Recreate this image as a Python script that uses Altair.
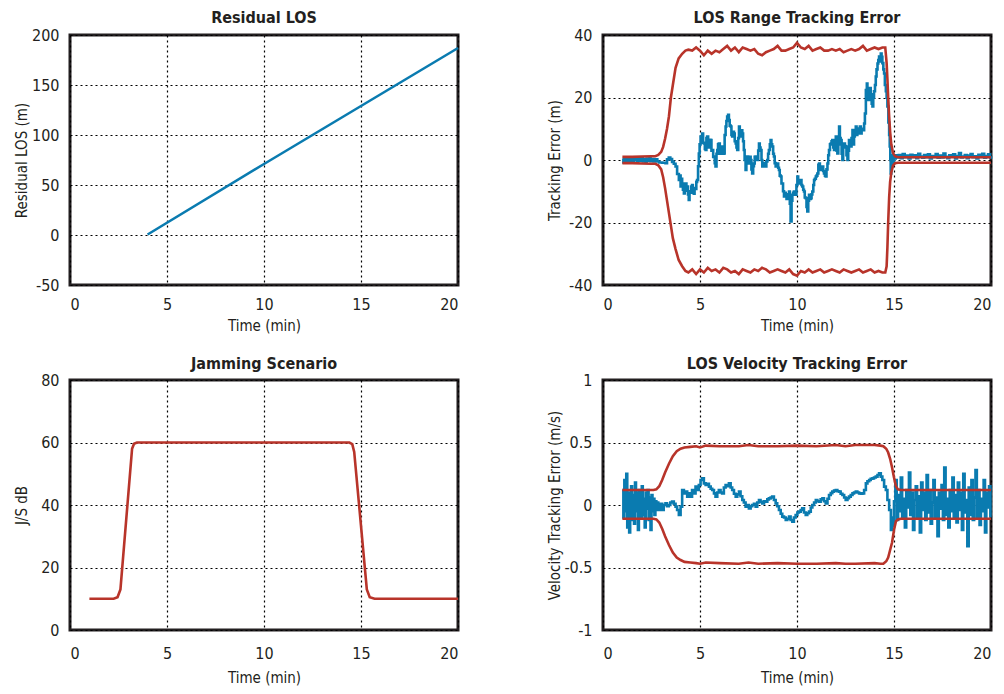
import altair as alt
import pandas as pd

FONT = "DejaVu Sans Condensed, sans-serif"
BLUE = "#0A7BB0"
RED = "#B8342A"
TXT = "#231F20"

# ---------------- Residual LOS ----------------
los_t = [4, 10, 20]
los_v = [0.5, 71, 187]

# ---------------- Jamming scenario ----------------
jam_t = [1, 2.25, 2.45, 2.6, 3.2, 3.3, 3.45, 14.4, 14.55, 14.65, 15.3, 15.45, 15.7, 20]
jam_v = [10, 10, 10.5, 13, 58, 59.6, 60, 60, 59.5, 57, 13, 10.5, 10, 10]

# ---------------- LOS range tracking error ----------------
rng_bound_t = [1.0, 1.5, 2.0, 2.5, 2.7, 2.85, 3.0, 3.1, 3.2, 3.3, 3.4, 3.5, 3.6, 3.74, 3.9, 4.08,
               4.25, 4.4, 4.6, 4.8, 5.0, 5.2, 5.4, 5.6, 5.8, 6.0, 6.2, 6.4, 6.6, 6.8, 7.0, 7.2,
               7.4, 7.6, 7.8, 8.0, 8.2, 8.4, 8.6, 8.8, 9.0, 9.2, 9.4, 9.6, 9.8, 10.0, 10.2, 10.4,
               10.6, 10.8, 11.0, 11.2, 11.4, 11.6, 11.8, 12.0, 12.2, 12.4, 12.6, 12.8, 13.0, 13.2,
               13.4, 13.6, 13.8, 14.0, 14.2, 14.4, 14.55, 14.62, 14.66, 14.7, 14.75, 14.8, 14.86,
               14.95, 15.05, 15.2, 16.0, 17.0, 18.0, 19.0, 20.0]
rng_upper = [1.0, 1.0, 1.1, 1.2, 1.2, 1.6, 2.6, 4.2, 6.8, 10, 14, 20, 24, 29.5, 32.5, 34,
             35, 35.3, 35, 36, 35, 33.5, 35, 34, 35, 34.5, 35.5, 36.5, 35, 36, 34.5, 36,
             35.5, 35, 35.5, 34, 33.5, 34.5, 35, 35.5, 36.5, 35, 35, 35.5, 36, 37.5, 36, 35.5,
             36.5, 35, 35.5, 36, 35, 35, 35.5, 35, 35.5, 34.5, 35, 35.5, 35, 35.5,
             36.5, 35, 35.5, 36, 35.5, 36, 36, 31, 26, 20, 14, 9, 5, 2.2, 1.2, 0.9, 0.9, 0.9, 0.9, 0.9, 0.9]
rng_lower = [-1.0, -1.0, -1.1, -1.2, -1.2, -1.7, -3, -5.5, -9, -13, -17, -21, -25, -28.5, -32, -34,
             -35.5, -36, -35, -36.5, -35, -36, -34.5, -35.5, -35, -36, -34.5, -35, -36, -35.5, -36.5, -35,
             -35.5, -36, -35, -35.5, -34.5, -35, -36, -35.5, -35, -35.5, -36, -35, -36.5, -37, -35.5, -36,
             -35, -36, -35.5, -35, -36, -35.5, -35, -35.5, -36, -35, -35.5, -36, -35.5, -35,
             -36, -35.5, -35, -36, -35.5, -36, -36, -34, -28, -20, -12, -7, -4, -1.8, -1.0, -0.9, -0.9, -0.9, -0.9, -0.9, -0.9]

rng_err_t = [1.0, 1.05, 1.1, 1.15, 1.2, 1.3, 1.35, 1.4, 1.5, 1.55, 1.6, 1.7, 1.75, 1.8, 1.9, 2.0,
             2.05, 2.1, 2.2, 2.25, 2.3, 2.4, 2.45, 2.5, 2.6, 2.7, 2.8, 2.9, 3.05, 3.22, 3.3, 3.39,
             3.47, 3.56, 3.65, 3.74, 3.82, 3.91, 3.96, 4.0, 4.04, 4.08, 4.12, 4.17, 4.21, 4.25, 4.3,
             4.34, 4.38, 4.42, 4.46, 4.51, 4.55, 4.59, 4.63, 4.68, 4.72, 4.77, 4.81, 4.85, 4.9, 4.94,
             4.98, 5.03, 5.07, 5.11, 5.16, 5.2, 5.25, 5.29, 5.33, 5.37, 5.42, 5.46, 5.5, 5.54, 5.59,
             5.63, 5.68, 5.72, 5.76, 5.8, 5.85, 5.89, 5.93, 5.97, 6.02, 6.06, 6.1, 6.14, 6.19, 6.23,
             6.27, 6.32, 6.36, 6.4, 6.45, 6.49, 6.53, 6.58, 6.62, 6.66, 6.7, 6.75, 6.79, 6.84, 6.88,
             6.92, 6.97, 7.01, 7.05, 7.09, 7.14, 7.18, 7.22, 7.26, 7.3, 7.35, 7.39, 7.43, 7.48, 7.52,
             7.56, 7.61, 7.65, 7.69, 7.74, 7.78, 7.82, 7.87, 7.91, 7.95, 8.0, 8.04, 8.08, 8.12, 8.17,
             8.21, 8.25, 8.3, 8.34, 8.38, 8.42, 8.47, 8.51, 8.55, 8.6, 8.64, 8.68, 8.72, 8.77, 8.81,
             8.85, 8.9, 8.94, 8.98, 9.03, 9.07, 9.11, 9.16, 9.2, 9.24, 9.28, 9.33, 9.37, 9.42, 9.46,
             9.5, 9.55, 9.59, 9.63, 9.67, 9.72, 9.76, 9.8, 9.84, 9.89, 9.93, 9.97, 10.02, 10.06, 10.1,
             10.15, 10.19, 10.23, 10.27, 10.32, 10.36, 10.4, 10.45, 10.49, 10.53, 10.58, 10.62, 10.66,
             10.71, 10.75, 10.79, 10.84, 10.88, 10.92, 10.97, 11.01, 11.05, 11.1, 11.14, 11.18, 11.22,
             11.27, 11.31, 11.35, 11.39, 11.44, 11.48, 11.52, 11.57, 11.61, 11.65, 11.7, 11.74, 11.78,
             11.82, 11.87, 11.91, 11.95, 12.0, 12.04, 12.08, 12.13, 12.17, 12.21, 12.25, 12.3, 12.34,
             12.38, 12.43, 12.47, 12.51, 12.55, 12.6, 12.64, 12.68, 12.73, 12.77, 12.81, 12.86, 12.9,
             12.94, 12.98, 13.03, 13.07, 13.11, 13.15, 13.2, 13.24, 13.29, 13.33, 13.37, 13.42, 13.46,
             13.5, 13.55, 13.6, 13.63, 13.68, 13.72, 13.76, 13.8, 13.85, 13.89, 13.93, 13.97, 14.02,
             14.06, 14.1, 14.15, 14.19, 14.23, 14.28, 14.32, 14.36, 14.4, 14.45, 14.49, 14.53, 14.58,
             14.62, 14.66, 14.71, 14.75, 14.78, 14.81, 14.83, 14.86, 14.88, 14.92, 14.95, 15.0, 15.05,
             15.09, 15.15, 15.25, 15.35, 15.45, 15.55, 15.65, 15.75, 15.85, 15.95, 16.05, 16.15, 16.25,
             16.35, 16.45, 16.55, 16.65, 16.75, 16.85, 16.95, 17.05, 17.15, 17.25, 17.35, 17.45, 17.55,
             17.65, 17.75, 17.85, 17.95, 18.05, 18.15, 18.25, 18.35, 18.45, 18.55, 18.65, 18.75, 18.85,
             18.95, 19.05, 19.15, 19.25, 19.35, 19.45, 19.55, 19.65, 19.75, 19.85, 19.95, 20.0]
rng_err_v = [0.3, -0.8, 0.9, -0.5, 0.6, -0.3, 0.8, -0.6, 0.4, -0.9, 0.5, 0.2, -0.7, 0.6, -0.2, 0.7,
             -0.5, 0.3, -0.6, 0.5, -0.2, 0.8, -0.4, 0.3, -0.5, 0.2, -0.5, -0.8, -0.9, -1.0, 0.2, 0.8,
             0.3, -0.6, -1.2, -2.1, -4.5, -6.4, -5.0, -8.5, -6.0, -7.5, -9.5, -10.7, -8.0, -7.5, -9.8,
             -8.5, -11, -12.8, -10, -10.5, -8.5, -8.0, -9.5, -10.8, -9, -9.3, -7, -6.4, -2, 2.1,
             5, 7.5, 6, 8.5, 5.5, 5.3, 3.5, 3.2, 7, 7.5, 4, 4.3, 6.5, 6.4, 3,
             3.2, 1, 1.1, -1, -2.1, 2, 3.2, 5, 5.3, 2, 2.1, 4, 4.3, 2, 2.1,
             8, 10.7, 12.5, 13.9, 14.5, 12.8, 11, 10.7, 8, 7.5, 9, 8.5, 6, 5.3, 4,
             3.2, 7, 10.7, 9, 7.5, 9.5, 8.5, 6, 3.2, 0, -3.2, 0, 1.1, -1, -1.1,
             1, 0, -3, -4.3, -2, -1.1, 1, 1.1, 0.5, 0, 3, 5.3, 4, 3.2, 0,
             -2.1, -1, -1.1, -1.5, -2.1, -0.5, 0, 2, 3.2, 5, 6.4, 5, 4.3, 2, 1.1,
             -1, -2.1, -1.5, -1.1, -2.5, -3.2, -5, -5.3, -7.5, -7.5, -10, -11.7, -10.5, -11.1, -12.5,
             -12.2, -11, -10.1, -14, -19.7, -13, -11.1, -10.5, -10.1, -11, -11.1, -8, -5.3, -6.5, -7.5,
             -6.8, -6.4, -8, -8.5, -9.5, -10.1, -12, -12.2, -15, -16.5, -13, -11.1, -12.5,
             -12.2, -11, -10.1, -8, -6.4, -6, -5.3, -5, -4.3, -1.5, -1.1, -3, -3.2,
             -2.5, -2.1, -3.5, -4.3, -5, -5.3, -3, -1.1, 1.5, 3.2, 5, 5.3, 6,
             6.4, 4, 3.2, 6, 7.5, 3, 2.1, 5, 10.7, 7, 6.4, 2, 0,
             4, 5.3, 4.5, 4.3, 1.5, 0, 3, 6.4, 5, 4.3, 7, 9.6, 5,
             7.5, 9.6, 10.7, 8, 10.1, 9, 8.5, 10.7, 8.5, 10, 9.6, 9.5, 11.7,
             14.9, 22.4, 24.5, 19.2, 19.2, 21, 23, 21, 18, 17.1, 20, 22, 24,
             26.7, 29, 30.9, 32, 33.1, 31.5, 34.1, 33, 31, 29, 27.7, 24, 22,
             20, 17.1, 12, 8, 4.3, 0, -4.3, 1, -1.5, 1.5, -1.0, 0.8, 0.5,
             1.5, 0.8, 1.6, 0.6, 1.9, 0.9, 1.4, 0.5, 1.7, 1.0, 1.5, 0.6, 2.0,
             1.1, 0.7, 1.6, 0.9, 1.8, 0.5, 1.3, 1.0, 1.9, 0.7, 1.4, 0.8, 2.1,
             1.0, 0.6, 1.5, 1.2, 1.8, 0.5, 1.3, 2.2, 0.8, 1.1, 1.6, 0.6, 1.4,
             1.9, 0.9, 1.2, 0.5, 1.7, 1.0, 2.0, 0.7, 1.3, 1.8, 0.8, 1.2]

# ---------------- LOS velocity tracking error ----------------
vel_bound_t = [1.0, 2.0, 2.6, 2.75, 2.9, 3.05, 3.2, 3.4, 3.6, 3.8, 4.0, 4.2, 4.5, 4.8, 5.0, 5.3,
               6.0, 7.0, 7.5, 8.0, 9.0, 10.0, 11.0, 12.0, 12.5, 13.0, 14.0, 14.3, 14.45, 14.6, 14.7,
               14.8, 14.9, 15.0, 15.1, 15.2, 15.35, 16.0, 20.0]
vel_upper = [0.12, 0.12, 0.12, 0.125, 0.15, 0.2, 0.26, 0.33, 0.39, 0.43, 0.45, 0.46, 0.465, 0.47, 0.46, 0.475,
             0.47, 0.47, 0.48, 0.47, 0.47, 0.475, 0.47, 0.48, 0.47, 0.48, 0.48, 0.475, 0.47, 0.45, 0.42,
             0.37, 0.3, 0.22, 0.15, 0.125, 0.12, 0.12, 0.12]
vel_lower = [-0.11, -0.11, -0.11, -0.115, -0.14, -0.19, -0.25, -0.32, -0.38, -0.42, -0.44, -0.455, -0.46, -0.465, -0.47, -0.46,
             -0.465, -0.47, -0.46, -0.47, -0.465, -0.47, -0.47, -0.465, -0.47, -0.47, -0.465, -0.47, -0.47, -0.45, -0.42,
             -0.36, -0.3, -0.2, -0.13, -0.115, -0.11, -0.11, -0.11]

# noisy start (before jamming)
vel_start_t = [1.0, 1.05, 1.1, 1.15, 1.2, 1.25, 1.3, 1.35, 1.4, 1.45, 1.5, 1.55, 1.6, 1.65, 1.7, 1.75,
               1.8, 1.85, 1.9, 1.95, 2.0, 2.05, 2.1, 2.15, 2.2, 2.25, 2.3, 2.35, 2.4, 2.45, 2.5, 2.55,
               2.6, 2.65, 2.7, 2.75, 2.8, 2.85]
vel_start_v = [0.12, -0.1, 0.2, -0.05, 0.25, -0.18, 0.1, -0.22, 0.05, 0.15, -0.12, 0.08, -0.15, 0.18, -0.05, 0.1,
               -0.2, 0.12, 0.02, -0.1, 0.15, -0.08, 0.05, -0.18, 0.1, -0.03, 0.12, -0.12, 0.06, -0.2, 0.08, -0.05,
               0.05, -0.08, 0.03, -0.04, 0.02, -0.03]
# jammed period
vel_mid_t = [2.9, 2.96, 3.05, 3.13, 3.22, 3.3, 3.39, 3.47, 3.56,
             3.65, 3.74, 3.82, 3.91, 4.0, 4.08, 4.17, 4.25, 4.34, 4.42, 4.51, 4.59, 4.68, 4.77, 4.85,
             4.94, 5.03, 5.11, 5.2, 5.29, 5.37, 5.46, 5.55, 5.63, 5.72, 5.8, 5.89, 5.97, 6.06, 6.14,
             6.23, 6.32, 6.4, 6.49, 6.58, 6.66, 6.75, 6.84, 6.92, 7.01, 7.09, 7.18, 7.26, 7.35, 7.43,
             7.52, 7.61, 7.69, 7.78, 7.87, 7.95, 8.04, 8.12, 8.21, 8.3, 8.38, 8.47, 8.55, 8.64, 8.72,
             8.81, 8.9, 8.98, 9.07, 9.16, 9.24, 9.33, 9.42, 9.5, 9.59, 9.67, 9.76, 9.84, 9.93, 10.02,
             10.1, 10.19, 10.27, 10.36, 10.45, 10.53, 10.62, 10.71, 10.79, 10.88, 10.97, 11.05, 11.14,
             11.22, 11.31, 11.39, 11.48, 11.57, 11.65, 11.74, 11.82, 11.91, 12.0, 12.08, 12.17, 12.25,
             12.34, 12.43, 12.51, 12.6, 12.68, 12.77, 12.86, 12.94, 13.03, 13.11, 13.2, 13.29, 13.37,
             13.46, 13.55, 13.63, 13.72, 13.8, 13.89, 13.97, 14.06, 14.15, 14.23, 14.32, 14.4, 14.49,
             14.58, 14.66, 14.75, 14.84, 14.88, 14.92]
vel_mid_v = [-0.04, 0.01, -0.04, 0.0, 0.013, -0.01, 0.0, 0.02, 0.027,
             0.01, -0.013, -0.04, -0.08, -0.013, 0.12, 0.093, 0.107, 0.067, 0.093, 0.067, 0.12, 0.093, 0.147, 0.12,
             0.16, 0.2, 0.213, 0.173, 0.16, 0.17, 0.147, 0.13, 0.12, 0.093, 0.067, 0.1, 0.12, 0.1, 0.093,
             0.14, 0.16, 0.15, 0.173, 0.14, 0.12, 0.09, 0.067, 0.085, 0.107, 0.07, 0.04, 0.02, -0.013, 0.0,
             -0.027, -0.01, 0.0, 0.01, -0.013, 0.02, 0.04, 0.025, 0.013, 0.03, 0.027, 0.045, 0.053, 0.06, 0.067,
             0.04, 0.013, -0.01, -0.04, -0.07, -0.093, -0.1, -0.12, -0.11, -0.093, -0.12, -0.133, -0.1, -0.08, -0.06,
             -0.053, -0.04, -0.027, -0.06, -0.08, -0.065, -0.053, -0.02, 0.0, 0.02, 0.04, 0.03, 0.027,
             0.045, 0.053, 0.03, 0.013, 0.05, 0.08, 0.095, 0.107, 0.115, 0.12, 0.11, 0.107, 0.09,
             0.08, 0.06, 0.04, 0.055, 0.067, 0.08, 0.093, 0.1, 0.107, 0.1, 0.093, 0.09, 0.093,
             0.12, 0.173, 0.19, 0.2, 0.21, 0.213, 0.22, 0.227, 0.24, 0.253, 0.227, 0.2, 0.147,
             0.12, 0.04, -0.04, -0.2, -0.1, -0.17]
# noisy end (after jamming)
vel_end_t = [15.0, 15.07, 15.14, 15.21, 15.28, 15.35, 15.42, 15.49, 15.56, 15.63, 15.7, 15.77,
             15.84, 15.91, 15.98, 16.05, 16.12, 16.19, 16.26, 16.33, 16.4, 16.47, 16.54, 16.61,
             16.68, 16.75, 16.82, 16.89, 16.96, 17.03, 17.1, 17.17, 17.24, 17.31, 17.38, 17.45,
             17.52, 17.59, 17.66, 17.73, 17.8, 17.87, 17.94, 18.01, 18.08, 18.15, 18.22, 18.29,
             18.36, 18.43, 18.5, 18.57, 18.64, 18.71, 18.78, 18.85, 18.92, 18.99, 19.06, 19.13,
             19.2, 19.27, 19.34, 19.41, 19.48, 19.55, 19.62, 19.69, 19.76, 19.83, 19.9, 19.97]
vel_end_v = [0.03, 0.2, -0.12, 0.08, -0.05, 0.22, -0.1, 0.05, -0.18, 0.12, -0.02, 0.26,
             -0.08, 0.1, -0.2, 0.04, 0.15, -0.1, 0.07, -0.22, 0.18, -0.04, 0.1, -0.12,
             0.24, -0.06, 0.12, -0.15, 0.02, 0.2, -0.1, 0.06, -0.25, 0.1, -0.03, 0.16,
             -0.12, 0.3, -0.08, 0.05, -0.18, 0.12, -0.05, 0.22, -0.1, 0.08, -0.14, 0.18,
             -0.04, 0.1, -0.2, 0.25, -0.06, 0.04, -0.33, 0.14, -0.08, 0.2, -0.12, 0.06,
             0.28, -0.1, 0.12, -0.16, 0.05, -0.05, 0.2, -0.22, 0.1, -0.02, 0.15, -0.1]
vel_err_t = vel_start_t + vel_mid_t + vel_end_t
vel_err_v = vel_start_v + vel_mid_v + vel_end_v

X_TICKS = [0, 5, 10, 15, 20]
W, H = 388, 250


def x_axis(row):
    return alt.Axis(values=X_TICKS, title="Time (min)", grid=True, ticks=False, domain=False,
                    labelPadding=11 if row == 0 else 15,
                    titleY=45 if row == 0 else 52, titleBaseline="alphabetic")


def y_axis(title, values, expr=None):
    kw = dict(values=values, title=title, grid=True, ticks=False, domain=False, labelPadding=11,
              titleX=-49, titleY=H / 2, titleAngle=-90, titleAlign="center", titleBaseline="middle")
    if expr:
        kw["labelExpr"] = expr
    return alt.Axis(**kw)


def line(df, color, xa, ya, ydom, interp="linear"):
    return alt.Chart(df).mark_line(color=color, strokeWidth=2.6, interpolate=interp).encode(
        x=alt.X("t:Q", scale=alt.Scale(domain=[0, 20], nice=False, zero=False), axis=xa),
        y=alt.Y("v:Q", scale=alt.Scale(domain=ydom, nice=False, zero=False), axis=ya),
    )


def heading(text, row):
    return alt.Chart(pd.DataFrame({"label": [text]})).mark_text(
        font=FONT, fontSize=16, fontWeight="bold", color=TXT, align="center", baseline="alphabetic"
    ).encode(text="label:N", x=alt.value(W / 2), y=alt.value(-12 if row == 0 else -11))


MINUS = "replace(format(datum.value, ''), '\u2212', '-')"

# panel 1
xa = x_axis(0)
ya = y_axis("Residual LOS (m)", [-50, 0, 50, 100, 150, 200], MINUS)
p1 = alt.layer(
    line(pd.DataFrame({"t": los_t, "v": los_v}), BLUE, xa, ya, [-50, 200]),
    heading("Residual LOS", 0),
).properties(width=W, height=H)

# panel 2
ya = y_axis("Tracking Error (m)", [-40, -20, 0, 20, 40], MINUS)
p2 = alt.layer(
    line(pd.DataFrame({"t": rng_err_t, "v": rng_err_v}), BLUE, xa, ya, [-40, 40], "step-after"),
    line(pd.DataFrame({"t": rng_bound_t, "v": rng_upper}), RED, xa, ya, [-40, 40]),
    line(pd.DataFrame({"t": rng_bound_t, "v": rng_lower}), RED, xa, ya, [-40, 40]),
    heading("LOS Range Tracking Error", 0),
).properties(width=W, height=H)

# panel 3
xb = x_axis(1)
ya = y_axis("J/S dB", [0, 20, 40, 60, 80], MINUS)
p3 = alt.layer(
    line(pd.DataFrame({"t": jam_t, "v": jam_v}), RED, xb, ya, [0, 80]),
    heading("Jamming Scenario", 1),
).properties(width=W, height=H)

# panel 4
ya = y_axis("Velocity Tracking Error (m/s)", [-1, -0.5, 0, 0.5, 1], MINUS)
p4 = alt.layer(
    line(pd.DataFrame({"t": vel_err_t, "v": vel_err_v}), BLUE, xb, ya, [-1, 1], "step-after"),
    line(pd.DataFrame({"t": vel_bound_t, "v": vel_upper}), RED, xb, ya, [-1, 1]),
    line(pd.DataFrame({"t": vel_bound_t, "v": vel_lower}), RED, xb, ya, [-1, 1]),
    heading("LOS Velocity Tracking Error", 1),
).properties(width=W, height=H)

chart = alt.concat(p1, p2, p3, p4, columns=2, spacing={"row": 95, "column": 145}).properties(
    bounds="flush",
    padding={"left": 12, "top": 8, "right": 0, "bottom": 0},
    background="white",
).configure_view(
    stroke="#231F20", strokeWidth=3
).configure_axis(
    labelFont=FONT, titleFont=FONT, labelFontSize=16, titleFontSize=15,
    labelColor=TXT, titleColor=TXT, titleFontWeight="normal",
    gridColor="#000000", gridOpacity=1, gridWidth=1.2, gridDash=[2, 3],
)

chart.save("out.html", embed_options={"renderer": "svg", "actions": False})
